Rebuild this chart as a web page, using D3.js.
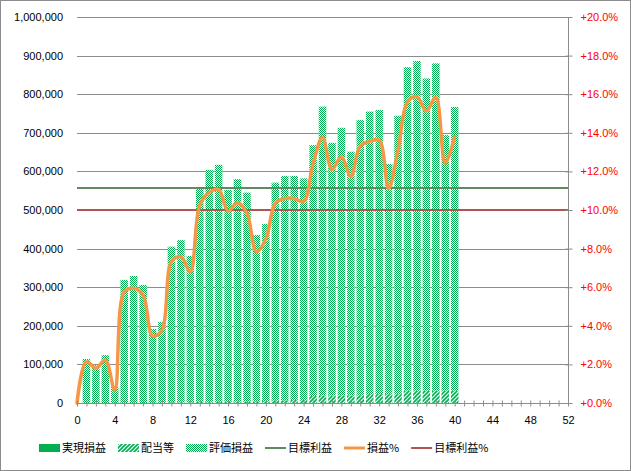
<!DOCTYPE html>
<html><head><meta charset="utf-8">
<script src="https://cdn.jsdelivr.net/npm/d3@7"></script>
<style>body{margin:0;background:#fff}svg{display:block}</style>
</head><body>
<svg id="c" width="631" height="471"></svg>
<script>
const weeks = [1,2,3,4,5,6,7,8,9,10,11,12,13,14,15,16,17,18,19,20,21,22,23,24,25,26,27,28,29,30,31,32,33,34,35,36,37,38,39,40];
const realized = [0,0,0,0,0,0,0,0,0,0,0,0,0,0,0,0,0,0,0,0,0,0,0,0,0,0,0,0,0,0,0,0,0,0,0,0,0,0,0,0];
const dividends = [0,0,0,0,0,0,0,0,0,2000,2000,2000,3000,3000,3000,3000,4000,4000,4000,5000,7000,7000,8000,8000,18000,20000,20000,20000,20000,20000,23000,23000,23000,23000,32000,32000,32000,32000,32000,32000];
const unrealized = [114000,98000,124000,42000,319000,329000,306000,192000,210000,403000,420000,379000,556000,601000,614000,549000,576000,541000,431000,459000,564000,581000,580000,574000,650000,748000,654000,693000,631000,713000,732000,736000,596000,721000,838000,854000,809000,848000,662000,735000];
const pctWeeks = [0,1,2,3,4,5,6,7,8,9,10,11,12,13,14,15,16,17,18,19,20,21,22,23,24,25,26,27,28,29,30,31,32,33,34,35,36,37,38,39,40];
const pctValues = [0,2.14,1.80,2.23,0.67,5.77,5.94,5.6,3.47,3.78,7.32,7.58,6.8,10.26,10.9,11.07,9.95,10.38,9.83,7.84,8.5,10.35,10.6,10.6,10.43,12.4,13.77,12.1,12.76,11.73,13.32,13.54,13.63,11.12,13.1,15.6,15.87,15.13,15.84,12.42,13.8];
const targetProfit = 557000;
const targetPct = 10;
const xRange = [0, 52];
const leftTicks = [0,100000,200000,300000,400000,500000,600000,700000,800000,900000,1000000];
const rightTicks = [0,2,4,6,8,10,12,14,16,18,20];
const xLabelTicks = [0,4,8,12,16,20,24,28,32,36,40,44,48,52];
const legendNames = ["実現損益","配当等","評価損益","目標利益","損益%","目標利益%"];

const GREEN = "#00b050";
const svg = d3.select("#c");
const L = 77, R = 568, T = 17, B = 403;
const x = d3.scaleLinear().domain(xRange).range([L, R]);
const y = d3.scaleLinear().domain([0, 1000000]).range([B, T]);
const y2 = d3.scaleLinear().domain([0, 20]).range([B, T]);
const font = "'Liberation Sans', Arial, sans-serif";
const jfont = "'Noto Sans CJK JP', sans-serif";

// border
svg.append("rect").attr("x",0.5).attr("y",0.5).attr("width",630).attr("height",470)
  .attr("fill","#fff").attr("stroke","#8c8c8c");

// patterns
const defs = svg.append("defs");
const chk = defs.append("pattern").attr("id","chk").attr("width",2).attr("height",2).attr("patternUnits","userSpaceOnUse");
chk.append("rect").attr("width",2).attr("height",2).attr("fill","#fff");
chk.append("rect").attr("x",0).attr("y",0).attr("width",1).attr("height",1).attr("fill",GREEN);
chk.append("rect").attr("x",1).attr("y",1).attr("width",1).attr("height",1).attr("fill",GREEN);
const hat = defs.append("pattern").attr("id","hat").attr("width",4).attr("height",4).attr("patternUnits","userSpaceOnUse");
hat.append("rect").attr("width",4).attr("height",4).attr("fill","#fff");
hat.append("path").attr("d","M-1,1 L1,-1 M0,4 L4,0 M3,5 L5,3").attr("stroke",GREEN).attr("stroke-width",1.6);

// gridlines
svg.append("g").attr("class","grid").selectAll("line").data(leftTicks.filter(d=>d>0)).join("line")
  .attr("x1",L).attr("x2",R).attr("y1",d=>Math.round(y(d))+0.5).attr("y2",d=>Math.round(y(d))+0.5)
  .attr("stroke","#8c8c8c").attr("stroke-width",1);

// bars (stacked)
const bw = (x(1)-x(0))*0.8;
const stackData = weeks.map((w,i)=>({w, r:realized[i], d:dividends[i], u:unrealized[i]}));
const stack = d3.stack().keys(["r","d","u"])(stackData);
const fills = {r:GREEN, d:"url(#hat)", u:"url(#chk)"};
stack.forEach(layer=>{
  svg.append("g").selectAll("rect").data(layer).join("rect")
    .attr("x",d=>x(d.data.w)-bw/2).attr("width",bw)
    .attr("y",d=>y(d[1])).attr("height",d=>Math.max(0,y(d[0])-y(d[1])))
    .attr("fill",fills[layer.key]);
});

// target lines
svg.append("line").attr("x1",x(xRange[0])).attr("x2",x(xRange[1]))
  .attr("y1",y(targetProfit)).attr("y2",y(targetProfit)).attr("stroke","#5e8b62").attr("stroke-width",2);
svg.append("line").attr("x1",x(xRange[0])).attr("x2",x(xRange[1]))
  .attr("y1",y2(targetPct)).attr("y2",y2(targetPct)).attr("stroke","#b05454").attr("stroke-width",2);

// pct line
const line = d3.line().x((d,i)=>x(pctWeeks[i])).y(d=>y2(d)).curve(d3.curveCatmullRom.alpha(0.5));
svg.append("path").attr("d",line(pctValues)).attr("fill","none")
  .attr("stroke","#f79646").attr("stroke-width",3.5).attr("stroke-linejoin","round").attr("stroke-linecap","round");

// x axis
const xAxis = d3.axisBottom(x).tickValues(d3.range(xRange[0], xRange[1]+1)).tickSize(3).tickFormat(d=>xLabelTicks.includes(d)?d:"");
const gx = svg.append("g").attr("transform",`translate(0,${B+0.5})`).call(xAxis);
gx.select(".domain").attr("stroke","#8c8c8c").attr("d",`M${L},0H${R}`);
gx.selectAll(".tick line").attr("stroke","#8c8c8c").attr("y1",-3).attr("y2",3);
gx.selectAll(".tick text").attr("font-family",font).attr("font-size",11).attr("fill","#000").attr("dy","0.71em").attr("y",13);

// left axis labels
const yAxis = d3.axisLeft(y).tickValues(leftTicks).tickSize(0).tickPadding(14).tickFormat(d3.format(","));
const gy = svg.append("g").attr("transform",`translate(${L},0)`).call(yAxis);
gy.select(".domain").remove();
gy.selectAll(".tick text").attr("font-family",font).attr("font-size",11).attr("fill","#000");

// right axis
const y2Axis = d3.axisRight(y2).tickValues(rightTicks).tickSize(4).tickPadding(8).tickFormat(d=>"+"+d.toFixed(1)+"%");
const gy2 = svg.append("g").attr("transform",`translate(${R+0.5},0)`).call(y2Axis);
gy2.select(".domain").attr("stroke","#8c8c8c").attr("d",`M0,${T}V${B}`);
gy2.selectAll(".tick line").attr("stroke","#8c8c8c").attr("x1",-3).attr("x2",4);
gy2.selectAll(".tick text").attr("font-family",font).attr("font-size",11).attr("fill","#ff0000");

// legend
const leg = svg.append("g");
const swatch = [
  g=>g.append("rect").attr("y",-4).attr("width",21).attr("height",8).attr("fill",GREEN),
  g=>g.append("rect").attr("y",-4).attr("width",21).attr("height",8).attr("fill","url(#hat)"),
  g=>g.append("rect").attr("y",-4).attr("width",21).attr("height",8).attr("fill","url(#chk)"),
  g=>g.append("line").attr("x2",21).attr("stroke","#5e8b62").attr("stroke-width",2),
  g=>g.append("line").attr("x2",21).attr("stroke","#f79646").attr("stroke-width",3),
  g=>g.append("line").attr("x2",21).attr("stroke","#b05454").attr("stroke-width",2)
];
let lx = 39;
legendNames.forEach((n,i)=>{
  const g = leg.append("g").attr("transform",`translate(${lx},448)`);
  swatch[i](g);
  const t = g.append("text").attr("x",23).attr("dy","0.35em").attr("font-family",jfont).attr("font-size",11).attr("fill","#000").text(n);
  lx += 23 + t.node().getComputedTextLength() + 12;
});
</script>
</body></html>
